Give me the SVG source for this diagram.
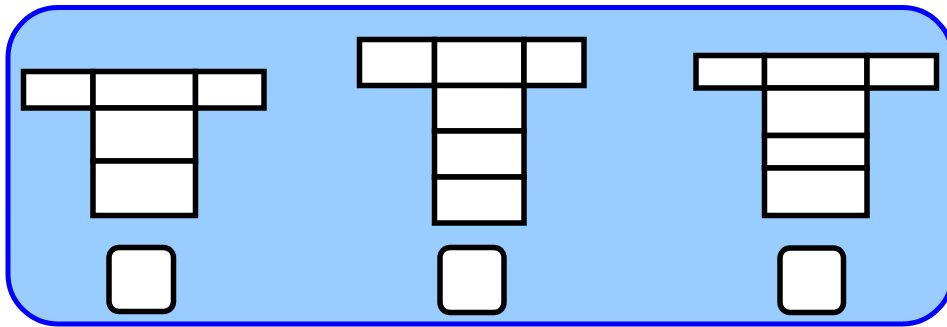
<svg xmlns="http://www.w3.org/2000/svg" width="947" height="327" viewBox="0 0 947 327">
<style>
.bg{fill:#99ccff;stroke:#0000ff;stroke-width:5}
.cell{fill:#ffffff;stroke:#000000;stroke-width:5.5}
.sq{fill:#ffffff;stroke:#000000;stroke-width:5.5}
</style>
<rect class="bg" x="8" y="7.5" width="944.5" height="316.5" rx="50" ry="50"/>
<g id="t1">
<rect class="cell" x="23.5" y="71.5" width="69.5" height="36.5"/>
<rect class="cell" x="93" y="71.5" width="102.5" height="36.5"/>
<rect class="cell" x="195.5" y="71.5" width="68.5" height="36.5"/>
<rect class="cell" x="93" y="108" width="102.5" height="53"/>
<rect class="cell" x="93" y="161" width="102.5" height="54.5"/>
</g>
<g id="t2">
<rect class="cell" x="359.5" y="39.5" width="75" height="46"/>
<rect class="cell" x="434.5" y="39.5" width="89.5" height="46"/>
<rect class="cell" x="524" y="39.5" width="60" height="46"/>
<rect class="cell" x="434.5" y="85.5" width="89.5" height="45.5"/>
<rect class="cell" x="434.5" y="131" width="89.5" height="46"/>
<rect class="cell" x="434.5" y="177" width="89.5" height="46"/>
</g>
<g id="t3">
<rect class="cell" x="696" y="55.5" width="68.5" height="32.5"/>
<rect class="cell" x="764.5" y="55.5" width="102.5" height="32.5"/>
<rect class="cell" x="867" y="55.5" width="69.5" height="32.5"/>
<rect class="cell" x="764.5" y="88" width="102.5" height="47.5"/>
<rect class="cell" x="764.5" y="135.5" width="102.5" height="32.5"/>
<rect class="cell" x="764.5" y="168" width="102.5" height="47.5"/>
</g>
<g id="s1"><rect class="sq" x="109" y="247.5" width="64.5" height="64" rx="10" ry="10"/></g>
<g id="s2"><rect class="sq" x="440" y="247.5" width="64" height="65" rx="10" ry="10"/></g>
<g id="s3"><rect class="sq" x="780" y="248" width="63.5" height="64.5" rx="10" ry="10"/></g>
<g id="connectors"></g>
</svg>
